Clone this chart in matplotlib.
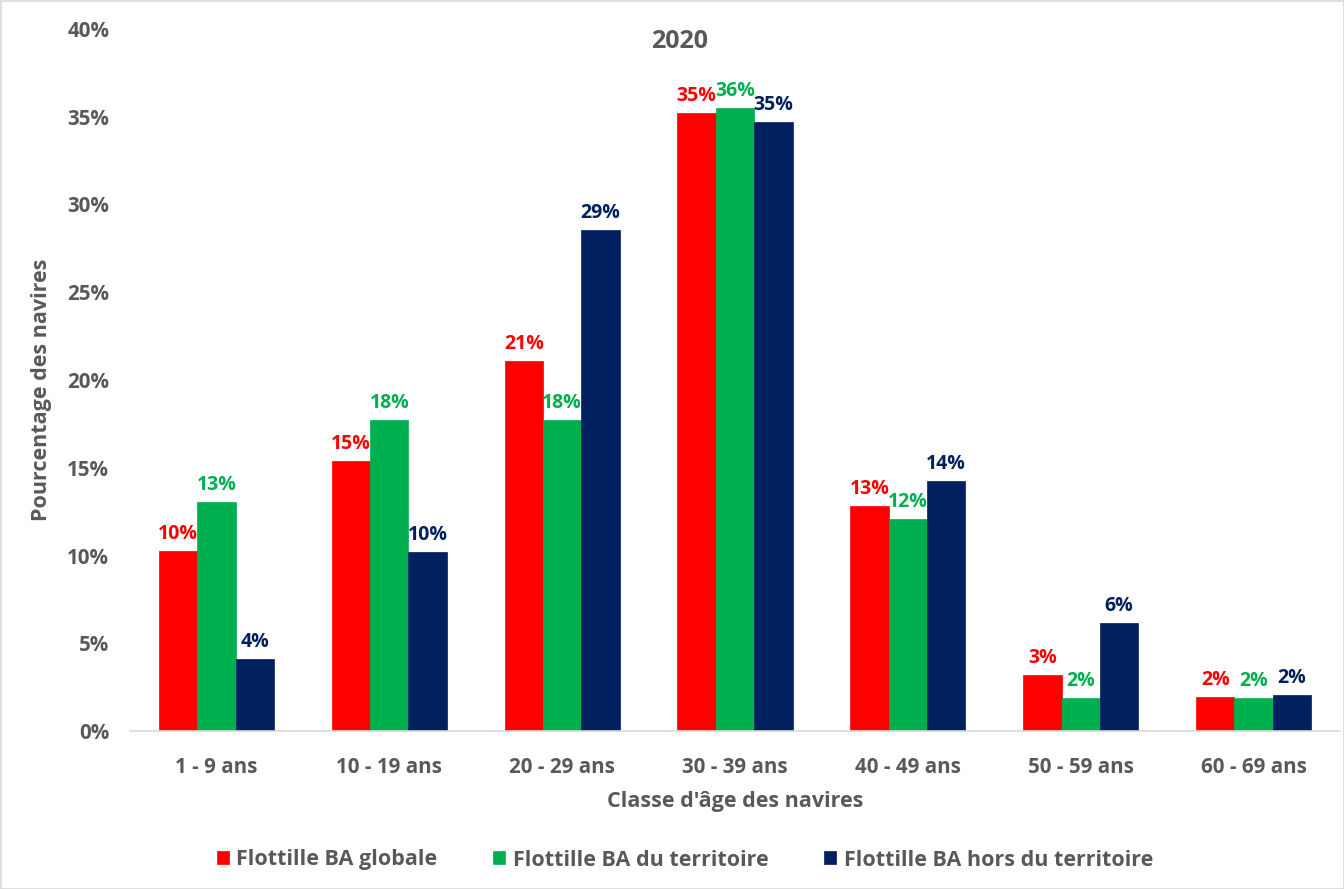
import matplotlib
matplotlib.use("Agg")
import matplotlib.pyplot as plt
import numpy as np
from matplotlib.patches import Rectangle

categories = ["1 - 9 ans", "10 - 19 ans", "20 - 29 ans", "30 - 39 ans",
              "40 - 49 ans", "50 - 59 ans", "60 - 69 ans"]
globale = [10.26, 15.38, 21.1, 35.2, 12.8, 3.17, 1.92]
territoire = [13.05, 17.72, 17.72, 35.5, 12.1, 1.86, 1.86]
hors = [4.1, 10.2, 28.55, 34.7, 14.26, 6.13, 2.05]
series_names = ["Flottille BA globale", "Flottille BA du territoire",
                "Flottille BA hors du territoire"]
colors = ["#FF0000", "#00B050", "#002060"]
title = "2020"
xlabel = "Classe d'âge des navires"
ylabel = "Pourcentage des navires"

plt.rcParams['font.family'] = ['Open Sans', 'DejaVu Sans']
grey = "#595959"

fig = plt.figure(figsize=(13.44, 8.89), dpi=100)
ax = fig.add_axes([130/1344, 1-731/889, (1340-130)/1344, (731-29)/889])

x = np.arange(len(categories))
w = 0.222
allseries = [globale, territoire, hors]
for i, (vals, c, name) in enumerate(zip(allseries, colors, series_names)):
    pos = x + (i - 1) * w
    ax.bar(pos, vals, width=w, color=c, label=name, edgecolor=c, linewidth=0.5)
    for p, v in zip(pos, vals):
        ax.annotate(f"{int(v + 0.5)}%", (p, v), xytext=(0, 5), textcoords="offset points",
                    ha="center", va="bottom", color=c, fontsize=14, fontweight="bold")

ax.set_xlim(-0.5, len(categories) - 0.5)
ax.set_ylim(0, 40)
ax.set_yticks(np.arange(0, 41, 5))
ax.set_yticklabels([f"{t}%" for t in range(0, 41, 5)])
ax.set_xticks(x)
ax.set_xticklabels(categories)
ax.tick_params(axis='both', length=0, labelsize=14.8, labelcolor=grey)
ax.tick_params(axis='y', pad=15)
ax.tick_params(axis='x', pad=18.5)
for lab in ax.get_xticklabels() + ax.get_yticklabels():
    lab.set_fontweight("bold")
for s in ["top", "right", "left"]:
    ax.spines[s].set_visible(False)
ax.spines["bottom"].set_color("#D9D9D9")
ax.spines["bottom"].set_linewidth(1.2)

fig.text(680/1344, 1-41/889, title, ha="center", va="center", fontsize=18,
         fontweight="bold", color=grey)
fig.text(735/1344, 1-801/889, xlabel, ha="center", va="center", fontsize=15.5,
         fontweight="bold", color=grey)
fig.text(42/1344, 1-390/889, ylabel, ha="center", va="center", fontsize=15.5,
         fontweight="bold", color=grey, rotation=90)

leg = fig.legend(loc="center", bbox_to_anchor=(685/1344, 1-860/889), ncol=3,
                 frameon=False, fontsize=15.5, handlelength=0.55, handleheight=0.55,
                 handletextpad=0.35, columnspacing=2.6)
for t in leg.get_texts():
    t.set_color(grey)
    t.set_fontweight("bold")

fig.patches.append(Rectangle((0.5/1344, 0.5/889), 1-1/1344, 1-1/889, transform=fig.transFigure,
                             fill=False, edgecolor="#D9D9D9", linewidth=1.2))

fig.savefig("out.png", dpi=100)
